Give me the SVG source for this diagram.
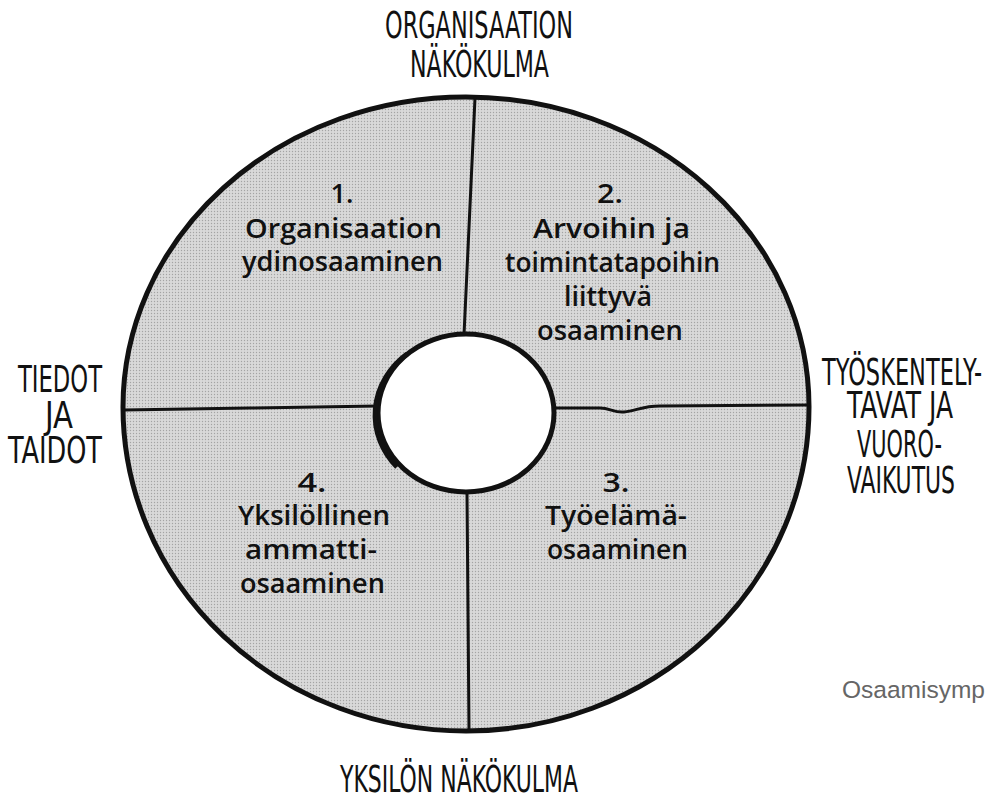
<svg xmlns="http://www.w3.org/2000/svg" width="985" height="796" viewBox="0 0 985 796">
  <defs>
    <pattern id="dots" width="3" height="3" patternUnits="userSpaceOnUse">
      <rect width="3" height="3" fill="#d9d9d9"/>
      <circle cx="1.5" cy="1.5" r="0.7" fill="#a4a4a4"/>
    </pattern>
  </defs>
  <style>
    .q { font-family: "Open Sans", "DejaVu Sans", sans-serif; font-weight: 600; font-size: 27px; fill: #111; text-anchor: middle; }
    .lbl { font-family: "Liberation Sans Narrow", "DejaVu Sans Condensed", "Liberation Sans", sans-serif; font-size: 26px; fill: #111; text-anchor: middle; }
    .cap { font-family: "Liberation Sans", Arial, sans-serif; font-size: 24.5px; fill: #666; }
    .outline { fill: none; stroke: #111; stroke-width: 5; stroke-linejoin: round; }
    .div { fill: none; stroke: #111; stroke-width: 3; stroke-linecap: round; }
  </style>
  <rect width="985" height="796" fill="#ffffff"/>

  <g id="ring">
    <path d="M 123 407 A 343 310 0 0 1 809 407 A 343 324 0 0 1 123 407 Z M 378 413 A 88 79 0 0 0 554 413 A 88 79 0 0 0 378 413 Z" fill="url(#dots)" fill-rule="evenodd"/>
    <path class="outline" d="M 123 407 A 343 310 0 0 1 809 407 A 343 324 0 0 1 123 407 Z"/>
  </g>

  <g id="connectors">
    <path class="div" d="M 475 98 L 464 335"/>
    <path class="div" d="M 467 492 L 469 730"/>
    <path class="div" stroke-width="4" d="M 124 410 L 250 408 L 378 406"/>
    <path class="div" d="M 555 408 L 600 408 C 610 408 614 413 624 412 C 636 411 642 406 660 406 L 808 405"/>
  </g>

  <g id="hole">
    <ellipse cx="466" cy="413" rx="88" ry="79" fill="#ffffff" stroke="#111" stroke-width="5"/>
    <path d="M 407 354 A 88 79 0 0 0 397 467" fill="none" stroke="#111" stroke-width="5"/>
  </g>

  <g id="q1">
    <text class="q" x="342" y="203" textLength="23" lengthAdjust="spacingAndGlyphs">1.</text>
    <text class="q" x="343.5" y="238" textLength="197" lengthAdjust="spacingAndGlyphs">Organisaation</text>
    <text class="q" x="342.5" y="271" textLength="201" lengthAdjust="spacingAndGlyphs">ydinosaaminen</text>
  </g>

  <g id="q2">
    <text class="q" x="610" y="203" textLength="26" lengthAdjust="spacingAndGlyphs">2.</text>
    <text class="q" x="611.5" y="238" textLength="157" lengthAdjust="spacingAndGlyphs">Arvoihin ja</text>
    <text class="q" x="612.5" y="272" textLength="215" lengthAdjust="spacingAndGlyphs">toimintatapoihin</text>
    <text class="q" x="608" y="306" textLength="88" lengthAdjust="spacingAndGlyphs">liittyvä</text>
    <text class="q" x="610" y="340" textLength="146" lengthAdjust="spacingAndGlyphs">osaaminen</text>
  </g>

  <g id="q3">
    <text class="q" x="616" y="492" textLength="27" lengthAdjust="spacingAndGlyphs">3.</text>
    <text class="q" x="616" y="525" textLength="142" lengthAdjust="spacingAndGlyphs">Työelämä-</text>
    <text class="q" x="617.5" y="559" textLength="141" lengthAdjust="spacingAndGlyphs">osaaminen</text>
  </g>

  <g id="q4">
    <text class="q" x="312" y="492" textLength="29" lengthAdjust="spacingAndGlyphs">4.</text>
    <text class="q" x="314" y="525" textLength="152" lengthAdjust="spacingAndGlyphs">Yksilöllinen</text>
    <text class="q" x="311" y="559" textLength="132" lengthAdjust="spacingAndGlyphs">ammatti-</text>
    <text class="q" x="312.5" y="593" textLength="145" lengthAdjust="spacingAndGlyphs">osaaminen</text>
  </g>

  <g id="label-top">
    <text class="lbl" transform="translate(479,38) scale(1,1.4)" textLength="188" lengthAdjust="spacingAndGlyphs">ORGANISAATION</text>
    <text class="lbl" transform="translate(479.5,77) scale(1,1.4)" textLength="139" lengthAdjust="spacingAndGlyphs">NÄKÖKULMA</text>
  </g>

  <g id="label-left">
    <text class="lbl" transform="translate(60,392) scale(1,1.4)" textLength="84" lengthAdjust="spacingAndGlyphs">TIEDOT</text>
    <text class="lbl" transform="translate(59,428) scale(1,1.4)" textLength="28" lengthAdjust="spacingAndGlyphs">JA</text>
    <text class="lbl" transform="translate(55,463) scale(1,1.4)" textLength="94" lengthAdjust="spacingAndGlyphs">TAIDOT</text>
  </g>

  <g id="label-right">
    <text class="lbl" transform="translate(902,385) scale(1,1.4)" textLength="160" lengthAdjust="spacingAndGlyphs">TYÖSKENTELY-</text>
    <text class="lbl" transform="translate(900,418) scale(1,1.4)" textLength="106" lengthAdjust="spacingAndGlyphs">TAVAT JA</text>
    <text class="lbl" transform="translate(899.5,457) scale(1,1.4)" textLength="85" lengthAdjust="spacingAndGlyphs">VUORO-</text>
    <text class="lbl" transform="translate(901,493) scale(1,1.4)" textLength="108" lengthAdjust="spacingAndGlyphs">VAIKUTUS</text>
  </g>

  <g id="label-bottom">
    <text class="lbl" transform="translate(459,792) scale(1,1.4)" textLength="238" lengthAdjust="spacingAndGlyphs">YKSILÖN NÄKÖKULMA</text>
  </g>

  <g id="caption">
    <text class="cap" x="842" y="698">Osaamisymp</text>
  </g>
</svg>
